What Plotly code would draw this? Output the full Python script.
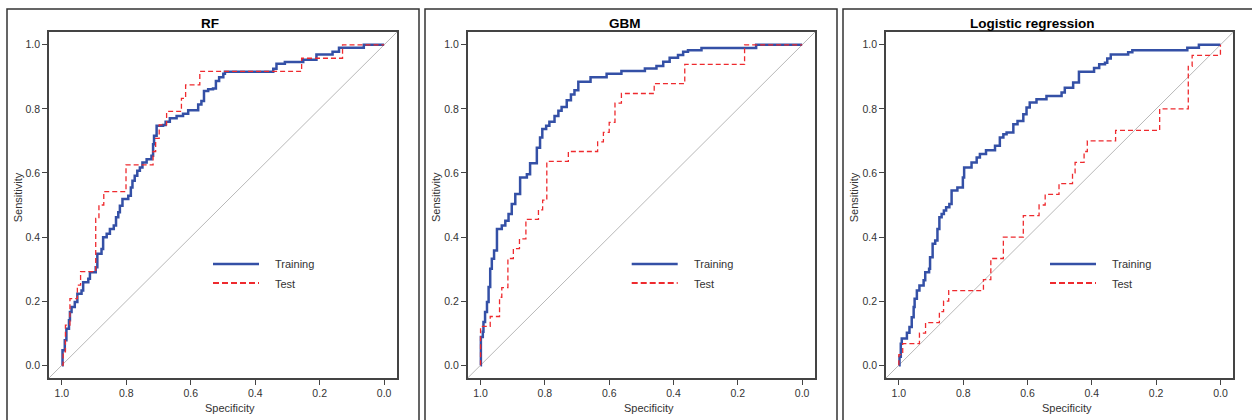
import plotly.graph_objects as go

W, H = 1252, 420

# ---------------- data (specificity, sensitivity) ----------------
titles = ["RF", "GBM", "Logistic regression"]
series_names = ["Training", "Test"]
tick_vals = [0.0, 0.2, 0.4, 0.6, 0.8, 1.0]
tick_text = ["0.0", "0.2", "0.4", "0.6", "0.8", "1.0"]

rf_train_spec = [1.000, 0.998, 0.991, 0.986, 0.978, 0.975, 0.970, 0.960, 0.952, 0.939,
                 0.934, 0.918, 0.913, 0.895, 0.890, 0.877, 0.872, 0.861, 0.851, 0.839,
                 0.832, 0.825, 0.820, 0.812, 0.794, 0.786, 0.781, 0.774, 0.766, 0.758,
                 0.750, 0.737, 0.722, 0.717, 0.714, 0.706, 0.686, 0.678, 0.665, 0.644,
                 0.624, 0.608, 0.577, 0.567, 0.559, 0.546, 0.531, 0.522, 0.512, 0.499,
                 0.494, 0.344, 0.334, 0.308, 0.251, 0.210, 0.160, 0.140, 0.063, 0.000]
rf_train_sens = [0.000, 0.047, 0.078, 0.114, 0.140, 0.166, 0.182, 0.197, 0.223, 0.233,
                 0.259, 0.270, 0.290, 0.306, 0.348, 0.363, 0.399, 0.410, 0.425, 0.436,
                 0.462, 0.477, 0.498, 0.519, 0.529, 0.555, 0.576, 0.591, 0.607, 0.617,
                 0.633, 0.643, 0.654, 0.690, 0.716, 0.747, 0.750, 0.760, 0.771, 0.778,
                 0.785, 0.796, 0.814, 0.825, 0.856, 0.861, 0.864, 0.887, 0.899, 0.910,
                 0.916, 0.925, 0.941, 0.946, 0.953, 0.970, 0.978, 0.991, 1.000, 1.000]
rf_test_spec = [1.000, 0.996, 0.989, 0.975, 0.952, 0.942, 0.895, 0.885, 0.870, 0.801,
                0.717, 0.709, 0.698, 0.675, 0.629, 0.616, 0.572, 0.256, 0.129, 0.000]
rf_test_sens = [0.000, 0.042, 0.125, 0.208, 0.250, 0.292, 0.458, 0.500, 0.542, 0.625,
                0.667, 0.708, 0.750, 0.792, 0.833, 0.875, 0.917, 0.958, 1.000, 1.000]

gbm_train_spec = [1.000, 0.999, 0.993, 0.991, 0.986, 0.980, 0.975, 0.970, 0.965, 0.958,
                  0.949, 0.934, 0.923, 0.913, 0.903, 0.892, 0.877, 0.856, 0.846, 0.825,
                  0.815, 0.808, 0.796, 0.786, 0.770, 0.758, 0.748, 0.732, 0.719, 0.708,
                  0.696, 0.658, 0.608, 0.562, 0.489, 0.453, 0.432, 0.412, 0.386, 0.370,
                  0.355, 0.313, 0.143, 0.000]
gbm_train_sens = [0.000, 0.088, 0.104, 0.135, 0.166, 0.197, 0.244, 0.301, 0.332, 0.358,
                  0.425, 0.436, 0.451, 0.472, 0.503, 0.534, 0.586, 0.596, 0.630, 0.679,
                  0.711, 0.737, 0.747, 0.760, 0.778, 0.794, 0.806, 0.827, 0.845, 0.858,
                  0.885, 0.899, 0.910, 0.918, 0.926, 0.934, 0.947, 0.960, 0.968, 0.978,
                  0.983, 0.990, 1.000, 1.000]
gbm_test_spec = [1.000, 1.000, 0.970, 0.941, 0.934, 0.915, 0.898, 0.879, 0.859, 0.820,
                 0.807, 0.794, 0.727, 0.636, 0.618, 0.600, 0.582, 0.562, 0.460, 0.365,
                 0.179, 0.000]
gbm_test_sens = [0.000, 0.121, 0.152, 0.212, 0.242, 0.333, 0.364, 0.394, 0.455, 0.485,
                 0.515, 0.636, 0.667, 0.697, 0.727, 0.758, 0.818, 0.848, 0.879, 0.939,
                 1.000, 1.000]

lr_train_spec = [1.000, 0.998, 0.994, 0.991, 0.975, 0.967, 0.960, 0.954, 0.951, 0.944,
                 0.936, 0.923, 0.918, 0.906, 0.903, 0.895, 0.887, 0.880, 0.874, 0.867,
                 0.860, 0.853, 0.843, 0.836, 0.818, 0.801, 0.797, 0.774, 0.758, 0.748,
                 0.729, 0.701, 0.686, 0.675, 0.665, 0.644, 0.631, 0.613, 0.603, 0.593,
                 0.572, 0.541, 0.494, 0.484, 0.458, 0.440, 0.393, 0.377, 0.359, 0.352,
                 0.341, 0.287, 0.274, 0.103, 0.067, 0.000]
lr_train_sens = [0.000, 0.026, 0.067, 0.083, 0.101, 0.119, 0.150, 0.182, 0.207, 0.233,
                 0.249, 0.265, 0.290, 0.301, 0.337, 0.379, 0.389, 0.425, 0.462, 0.472,
                 0.483, 0.493, 0.503, 0.545, 0.555, 0.586, 0.617, 0.633, 0.648, 0.659,
                 0.671, 0.685, 0.711, 0.721, 0.726, 0.752, 0.762, 0.783, 0.804, 0.820,
                 0.830, 0.840, 0.851, 0.866, 0.882, 0.916, 0.928, 0.939, 0.944, 0.957,
                 0.970, 0.977, 0.983, 0.991, 1.000, 1.000]
lr_test_spec = [1.000, 1.000, 0.988, 0.936, 0.917, 0.874, 0.861, 0.845, 0.737, 0.714,
                0.675, 0.613, 0.564, 0.545, 0.502, 0.460, 0.452, 0.424, 0.414, 0.326,
                0.189, 0.100, 0.088, 0.000]
lr_test_sens = [0.000, 0.033, 0.067, 0.100, 0.133, 0.167, 0.200, 0.233, 0.267, 0.333,
                0.400, 0.467, 0.500, 0.533, 0.567, 0.600, 0.633, 0.667, 0.700, 0.733,
                0.800, 0.933, 0.967, 1.000]

panels = [
    (rf_train_spec, rf_train_sens, rf_test_spec, rf_test_sens),
    (gbm_train_spec, gbm_train_sens, gbm_test_spec, gbm_test_sens),
    (lr_train_spec, lr_train_sens, lr_test_spec, lr_test_sens),
]

# ---------------- styling / layout (pixels) ----------------
BLUE = "#3450a6"
RED = "#ee2a2e"
DIAG = "#b8b8b8"
AXC = "#444444"
TXT = "#333333"
FONT = "Liberation Sans"

plot_lr = [(49, 397), (467.7, 815), (886, 1233.3)]
outer_lr = [(7, 419), (425, 837), (843, 1256)]
plot_top, plot_bot = 32, 378
outer_top = 9
title_x = [210, 624.5, 1032]
xtitle_off = 181   # from plot left
ytitle_x = [18.3, 436, 854.3]

def px(x):
    return x / W

def py(y):
    return 1 - y / H

fig = go.Figure()
shapes = []
annotations = []
layout_axes = {}

for i, (trs, trn, tss, tsn) in enumerate(panels):
    n = "" if i == 0 else str(i + 1)
    xa, ya = "x" + n, "y" + n
    l, r = plot_lr[i]
    common = dict(
        showline=True, mirror=True, linecolor=AXC, linewidth=1.5,
        ticks="outside", ticklen=5, tickwidth=1, tickcolor=AXC,
        tickvals=tick_vals, ticktext=tick_text, showgrid=False, zeroline=False,
        tickfont=dict(family=FONT, size=10.5, color=TXT), fixedrange=True,
    )
    xcfg = dict(common)
    xcfg.update(domain=[px(l), px(r)], range=[1.04, -0.04], anchor=ya)
    ycfg = dict(common)
    ycfg.update(domain=[py(plot_bot), py(plot_top)], range=[-0.04, 1.04], anchor=xa)
    layout_axes["xaxis" + n] = xcfg
    layout_axes["yaxis" + n] = ycfg

    # diagonal reference
    shapes.append(dict(type="line", xref=xa + " domain", yref=ya + " domain",
                       x0=0, y0=0, x1=1, y1=1, line=dict(color=DIAG, width=1),
                       layer="below"))

    fig.add_trace(go.Scatter(x=trs, y=trn, mode="lines", xaxis=xa, yaxis=ya,
                             line=dict(color=BLUE, width=2.5, shape="hv"),
                             showlegend=False, hoverinfo="skip"))
    fig.add_trace(go.Scatter(x=tss, y=tsn, mode="lines", xaxis=xa, yaxis=ya,
                             line=dict(color=RED, width=1.3, shape="hv", dash="5px,3px"),
                             showlegend=False, hoverinfo="skip"))

    # outer panel frame
    ol, orr = outer_lr[i]
    shapes.append(dict(type="rect", xref="paper", yref="paper",
                       x0=px(ol), x1=px(orr), y0=py(426), y1=py(outer_top),
                       line=dict(color="#333333", width=1.5), fillcolor="rgba(0,0,0,0)"))

    # titles
    annotations.append(dict(text="<b>" + titles[i] + "</b>", x=px(title_x[i]), y=py(23),
                            xref="paper", yref="paper", showarrow=False,
                            xanchor="center", yanchor="middle",
                            font=dict(family=FONT, size=13.5, color="#000000")))
    annotations.append(dict(text="Specificity", x=px(l + xtitle_off), y=py(408),
                            xref="paper", yref="paper", showarrow=False,
                            xanchor="center", yanchor="middle",
                            font=dict(family=FONT, size=11, color=TXT)))
    annotations.append(dict(text="Sensitivity", x=px(ytitle_x[i]), y=py(197),
                            xref="paper", yref="paper", showarrow=False, textangle=-90,
                            xanchor="center", yanchor="middle",
                            font=dict(family=FONT, size=11, color=TXT)))

    # legend
    lx0, lx1, tx = l + 164, l + 210, l + 224
    shapes.append(dict(type="line", xref="paper", yref="paper",
                       x0=px(lx0), x1=px(lx1), y0=py(264), y1=py(264),
                       line=dict(color=BLUE, width=2.5)))
    shapes.append(dict(type="line", xref="paper", yref="paper",
                       x0=px(lx0), x1=px(lx1), y0=py(283), y1=py(283),
                       line=dict(color=RED, width=2, dash="6px,3px")))
    for name, yy in zip(series_names, [264, 283.5]):
        annotations.append(dict(text=name, x=px(tx), y=py(yy), xref="paper", yref="paper",
                                showarrow=False, xanchor="left", yanchor="middle",
                                font=dict(family=FONT, size=11, color=TXT)))

fig.update_layout(
    width=W, height=H, margin=dict(l=0, r=0, t=0, b=0),
    paper_bgcolor="white", plot_bgcolor="white",
    shapes=shapes, annotations=annotations, showlegend=False,
    **layout_axes,
)

fig.write_html("out.html", config={"displayModeBar": False})
